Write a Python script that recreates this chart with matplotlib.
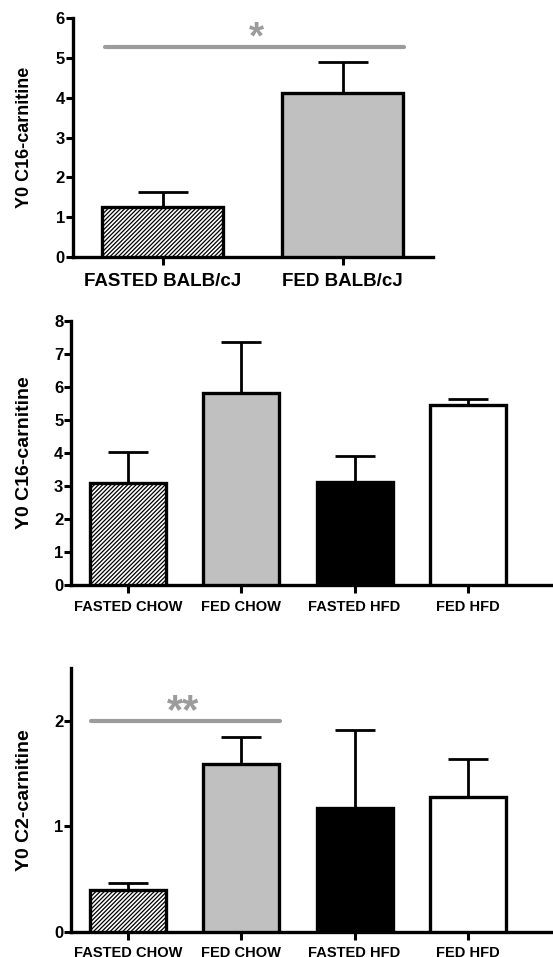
import numpy as np
import matplotlib
matplotlib.use("Agg")
import matplotlib.pyplot as plt

plt.rcParams['font.family'] = ['Liberation Sans', 'DejaVu Sans']
plt.rcParams['font.weight'] = 'bold'
plt.rcParams['hatch.linewidth'] = 0.9

# --- values (mean, upper SEM) ---
balb_groups = ['FASTED BALB/cJ', 'FED BALB/cJ']
balb_c16 = [1.25, 4.11]
balb_c16_sem = [0.37, 0.78]

diet_groups = ['FASTED CHOW', 'FED CHOW', 'FASTED HFD', 'FED HFD']
diet_c16 = [3.10, 5.80, 3.12, 5.44]
diet_c16_sem = [0.92, 1.55, 0.79, 0.18]
diet_c2 = [0.40, 1.59, 1.17, 1.28]
diet_c2_sem = [0.06, 0.26, 0.74, 0.36]

# fill, hatch per group
STYLES = [('white', '////////'), ('#c0c0c0', None), ('black', None), ('white', None)]
SIG_GREY = '#9c9c9c'

W, H = 553, 957
fig = plt.figure(figsize=(W / 100, H / 100), dpi=100)


def px_axes(left, right, top, bottom):
    return fig.add_axes([left / W, 1 - bottom / H, (right - left) / W, (bottom - top) / H])


def draw_panel(ax, groups, vals, sem, ylim, yticks, ylabel, xlabel_size, ylabel_size,
               capsize, xlim, ylabel_x, xpad):
    x = np.arange(len(groups))
    for i in range(len(groups)):
        fc, hatch = STYLES[i]
        ax.bar(x[i], vals[i], width=0.67, color=fc, edgecolor='black', linewidth=2.4,
               hatch=hatch, zorder=3)
    ax.errorbar(x, vals, yerr=[np.zeros(len(vals)), sem], fmt='none', ecolor='black',
                elinewidth=2.0, capsize=capsize, capthick=2.0, zorder=2)

    ax.set_xlim(*xlim)
    ax.set_ylim(*ylim)
    ax.set_yticks(yticks)
    ax.set_xticks(x)
    ax.set_xticklabels(groups, fontsize=xlabel_size, fontweight='bold')
    ax.tick_params(axis='y', labelsize=12, length=5, width=2.2, pad=0.5)
    ax.tick_params(axis='x', length=6, width=2.2, pad=xpad)
    for lab in ax.get_yticklabels():
        lab.set_fontweight('bold')

    for side in ['top', 'right']:
        ax.spines[side].set_visible(False)
    for side in ['left', 'bottom']:
        ax.spines[side].set_linewidth(2.4)

    ax.set_ylabel(ylabel, fontsize=ylabel_size, fontweight='bold')
    ax.yaxis.set_label_coords(ylabel_x, 0.5)


# Panel 1: BALB/cJ C16
ax1 = px_axes(72.5, 432.5, 18, 257)
draw_panel(ax1, balb_groups, balb_c16, balb_c16_sem, (0, 6), range(0, 7),
           'Y0 C16-carnitine', 13.5, 13, 18, (-0.5, 1.5), (33 - 72.5) / 360, 5.5)
ax1.plot([-0.32, 1.34], [5.27, 5.27], color=SIG_GREY, lw=3, solid_capstyle='round', zorder=4)
ax1.text(0.52, 5.49, '*', color=SIG_GREY, fontsize=28, ha='center', va='center')

# Panel 2: diet C16
ax2 = px_axes(71, 553, 320.7, 585)
draw_panel(ax2, diet_groups, diet_c16, diet_c16_sem, (0, 8), range(0, 9),
           'Y0 C16-carnitine', 10.5, 14, 14.5, (-0.5, 3.75), (33 - 71) / 482, 4.5)

# Panel 3: diet C2 (tick labels run off the bottom edge, as in the source)
ax3 = px_axes(71, 553, 668.3, 931.7)
draw_panel(ax3, diet_groups, diet_c2, diet_c2_sem, (0, 2.5), [0, 1, 2],
           'Y0 C2-carnitine', 10.5, 14, 14.5, (-0.5, 3.75), (33 - 71) / 482, 4.5)
ax3.plot([-0.32, 1.34], [2.0, 2.0], color=SIG_GREY, lw=3, solid_capstyle='round', zorder=4)
ax3.text(0.485, 2.08, '**', color=SIG_GREY, fontsize=30, ha='center', va='center')

fig.savefig('out.png', dpi=100)
